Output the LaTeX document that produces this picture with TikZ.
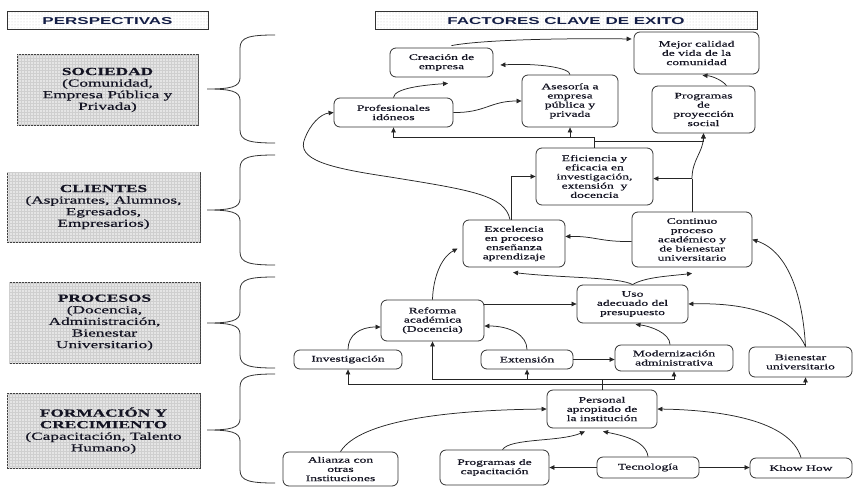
\documentclass[tikz,border=0pt]{standalone}
\usepackage{fontspec}
\setmainfont[FakeStretch=1.6,FakeBold=0.4]{Liberation Serif}
\newfontfamily\hdrfont[FakeStretch=1.7]{Liberation Sans}
\usetikzlibrary{arrows.meta,calc,patterns}
\definecolor{ink}{RGB}{20,20,35}
\definecolor{hdrink}{RGB}{20,30,70}

% curly brace opening to the right: top y, tip y, bottom y
\newcommand{\sidebrace}[3]{%
  \draw[brace] (275,#1) .. controls (250,#1) and (240,#1+2) .. (240,#1+13)
    -- (240,#2-11) .. controls (240,#2-2) and (230,#2) .. (207,#2)
    .. controls (230,#2) and (240,#2+2) .. (240,#2+11)
    -- (240,#3-13) .. controls (240,#3-2) and (250,#3) .. (275,#3);}

\begin{document}
\begin{tikzpicture}[x=1pt,y=-1pt,
  every node/.style={text=ink},
  sz/.style 2 args={minimum width=#1, minimum height=#2},
  fbox/.style={draw=black!80, line width=0.8pt, rounded corners=6pt, fill=white,
    align=center, inner sep=1pt, font=\fontsize{8.5}{9.2}\selectfont},
  pbox/.style={draw=black!75, line width=1pt, fill=gray!20,
    postaction={pattern=grid, pattern color=gray!38},
    align=center, inner sep=1pt, font=\fontsize{10.8}{11.6}\selectfont},
  hdr/.style={draw=black!80, line width=1pt, pattern=dots, pattern color=gray!45,
    inner sep=0pt},
  hdrtext/.style={font=\hdrfont\bfseries\fontsize{10}{10}\selectfont, text=hdrink},
  ln/.style={draw=black!85, line width=0.75pt},
  arr/.style={ln, -{Triangle[length=5pt,width=4.5pt]}},
  brace/.style={draw=black!80, line width=0.8pt},
]
\useasboundingbox (0,0) rectangle (853,487);

% column headers
\node[hdr, sz={201pt}{18pt}] (persp) at (107.5,21) {};
\node[hdrtext] (persptxt) at (persp.center) {PERSPECTIVAS};
\node[hdr, sz={382pt}{18pt}] (fact) at (566,21) {};
\node[hdrtext] (facttxt) at (fact.center) {FACTORES CLAVE DE EXITO};

% perspectives
\node[pbox, sz={181pt}{70pt}] (soc) at (107.5,90)
  {\textbf{SOCIEDAD}\\(Comunidad,\\Empresa Pública y\\Privada)};
\node[pbox, sz={193pt}{70pt}] (cli) at (103.5,207)
  {\textbf{CLIENTES}\\(Aspirantes, Alumnos,\\Egresados,\\Empresarios)};
\node[pbox, sz={191pt}{81pt}] (proc) at (104.5,322.5)
  {\textbf{PROCESOS}\\(Docencia,\\Administración,\\Bienestar\\Universitario)};
\node[pbox, sz={193pt}{75pt}] (form) at (103.5,430.5)
  {\textbf{FORMACIÓN Y}\\\textbf{CRECIMIENTO}\\(Capacitación, Talento\\Humano)};

% braces
\sidebrace{35}{89}{143}
\sidebrace{155}{210}{265}
\sidebrace{277}{323}{368}
\sidebrace{374}{430}{483}

% key success factors
\node[fbox, sz={103pt}{29pt}] (crea) at (441.5,62.5) {Creación de\\empresa};
\node[fbox, sz={119pt}{29pt}] (prof) at (393.5,112.5) {Profesionales\\idóneos};
\node[fbox, sz={96pt}{52pt}] (ases) at (570,101) {Asesoría a\\empresa\\pública y\\privada};
\node[fbox, sz={125pt}{42pt}] (mejor) at (696.5,53) {Mejor calidad\\de vida de la\\comunidad};
\node[fbox, sz={103pt}{47pt}] (prog) at (703.5,109.5) {Programas\\de\\proyección\\social};
\node[fbox, sz={117pt}{57pt}] (efic) at (594.5,176.5)
  {Eficiencia y\\eficacia en\\investigación,\\extensión~ y\\docencia};
\node[fbox, sz={102pt}{47pt}] (exc) at (514,243.5) {Excelencia\\en proceso\\enseñanza\\aprendizaje};
\node[fbox, sz={120pt}{55pt}] (cont) at (692,239.5)
  {Continuo\\proceso\\académico y\\de bienestar\\universitario};
\node[fbox, sz={103pt}{41pt}] (ref) at (432.5,320.5) {Reforma\\académica\\(Docencia)};
\node[fbox, sz={108pt}{19pt}] (inv) at (348,359.5) {Investigación};
\node[fbox, sz={92pt}{19pt}] (ext) at (527,359.5) {Extensión};
\node[fbox, sz={111pt}{38pt}] (uso) at (632.5,304) {Uso\\adecuado del\\presupuesto};
\node[fbox, sz={118pt}{26pt}] (mod) at (674,358) {Modernización\\administrativa};
\node[fbox, sz={103pt}{30pt}] (bien) at (800.5,362) {Bienestar\\universitario};
\node[fbox, sz={110pt}{38pt}] (pers) at (602,409) {Personal\\apropiado de\\la institución};
\node[fbox, sz={115pt}{34pt}] (ali) at (340.5,469) {Alianza con\\otras\\Instituciones};
\node[fbox, sz={109pt}{35pt}] (pcap) at (494.5,467.5) {Programas de\\capacitación};
\node[fbox, sz={102pt}{21pt}] (tec) at (648,467.5) {Tecnología};
\node[fbox, sz={102pt}{20pt}] (know) at (801,468) {Khow How};

% society level
\draw[arr] (prof.north) .. controls (394,88) and (425,85) .. ($(crea.south)+(6.5,6)$);
\draw[arr] (prof.east) .. controls (485,113) and (490,101) .. (ases.west);
\draw[arr] (ases.north) .. controls (570,68) and (540,63) .. ($(crea.east)+(7,2.5)$);
\draw[arr] ($(crea.north)+(10,-2)$) .. controls (480,40) and (560,38) .. ($(mejor.west)+(-2,-14)$);
\draw[arr] ($(prog.north)+(23,0)$) .. controls (722,80) and (712,76) .. ($(mejor.south)+(6,1)$);

% from efficiency upwards
\draw[arr] (efic.north) -- ++(0,-10) -| (prof.south);
\coordinate (j1) at (570,138);
\draw[arr] (j1) -- (ases.south);
\draw[arr] ($(efic.north)+(0,-6)$) -| (prog.south);

% client level
\draw[ln] (cont.north) -- ++(0,-33) coordinate (c1);
\draw[arr] (c1) -- (c1 -| efic.east);
\draw[arr] (c1) .. controls (692,160) and (703,152) .. (prog.south);
\draw[arr] ($(exc.north)+(-3,0)$) |- (efic.west);
\draw[arr] ($(exc.north)+(-4,0)$) .. controls (505,195) and (470,190) .. (390,177)
  .. controls (330,168) and (295,160) .. (305,138)
  .. controls (310,125) and (320,114) .. (prof.west);
\draw[arr] ($(cont.west)+(0,2)$) .. controls (600,242) and (595,236) .. ($(exc.east)+(0,-7)$);

% process level
\draw[arr] (uso.north) .. controls (620,277) and (560,278) .. ($(exc.south)+(-1,5)$);
\draw[arr] (uso.north) .. controls (645,277) and (670,276) .. ($(cont.south)+(0,6)$);
\draw[arr] (ref.north) .. controls (433,280) and (440,258) .. ($(exc.west)+(-5,5)$);
\draw[arr] (ref.east |- uso.west) -- (uso.west);
\draw[arr] (inv.north) .. controls (348,335) and (360,327) .. ($(ref.west)+(0,6.5)$);
\draw[arr] (ext.north) .. controls (527,335) and (510,326) .. ($(ref.east)+(0,5.5)$);
\draw[arr] (ext.east) -- (ext.east -| mod.west);
\draw[arr] ($(mod.north)+(-4,0)$) .. controls (670,333) and (650,326) .. ($(uso.south)+(3,1)$);
\draw[arr] ($(bien.north)+(5,0)$) .. controls (795,322) and (760,302) .. (uso.east);
\draw[arr] ($(bien.north)+(5,0)$) .. controls (803,300) and (790,252) .. (cont.east);

% learning and growth level
\draw[ln] (pers.north) -- ++(0,-10) coordinate (b1);
\draw[arr] (b1) -| (ref.south);
\draw[arr] (b1) -| (mod.south);
\draw[arr] (ext.south |- b1) -- (ext.south);
\draw[arr] ($(pers.north)+(0,-5)$) -| (inv.south);
\draw[arr] ($(pers.north)+(0,-5)$) -| ($(bien.south)+(5,0)$);

\draw[arr] (ali.north) .. controls (360,420) and (450,410) .. (pers.west);
\draw[arr] ($(pcap.north)+(8,0)$) .. controls (510,438) and (560,442) .. ($(pers.south)+(-17,3)$);
\draw[arr] (tec.north) .. controls (646,440) and (620,435) .. ($(pers.south)+(1,3)$);
\draw[arr] (tec.west) -- (tec.west -| pcap.east);
\draw[arr] (tec.east) -- (tec.east -| know.west);
\draw[arr] (know.north) .. controls (790,420) and (720,410) .. (pers.east);
\end{tikzpicture}
\end{document}
